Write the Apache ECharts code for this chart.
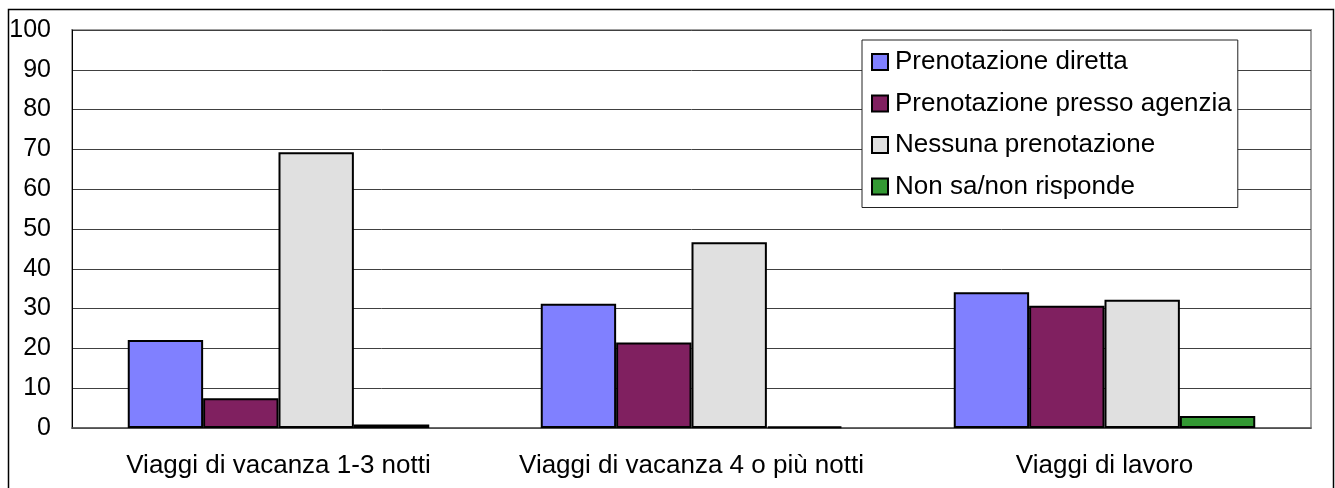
<!DOCTYPE html>
<html>
<head>
<meta charset="utf-8">
<script src="https://cdn.jsdelivr.net/npm/echarts@6/dist/echarts.min.js"></script>
<style>
html,body{margin:0;padding:0;background:#fff;}
#c{width:1335px;height:488px;}
</style>
</head>
<body>
<div id="c"></div>
<script>
const categories = ['Viaggi di vacanza 1-3 notti', 'Viaggi di vacanza 4 o più notti', 'Viaggi di lavoro'];
const seriesNames = ['Prenotazione diretta', 'Prenotazione presso agenzia', 'Nessuna prenotazione', 'Non sa/non risponde'];
const diretta = [22.1, 31.2, 34.1];
const agenzia = [7.5, 21.5, 30.7];
const nessuna = [69.3, 46.7, 32.2];
const nonSa = [0.9, 0.4, 3.0];
const colors = ['#8080FF', '#802060', '#E0E0E0', '#339933'];
const FONT = 'Liberation Sans, Arial, sans-serif';

const values = [diretta, agenzia, nessuna, nonSa];
const chart = echarts.init(document.getElementById('c'), null, {renderer: 'canvas'});
chart.setOption({
  animation: false,
  backgroundColor: '#fff',
  graphic: [{
    type: 'rect', left: 6, top: 7, silent: true, z: 100,
    shape: {x: 0, y: 0, width: 1325, height: 495},
    style: {fill: 'none', stroke: '#000', lineWidth: 1.5}
  }],
  grid: {left: 72, right: 24, top: 30, bottom: 60, show: true, borderColor: '#a0a0a0', borderWidth: 2},
  legend: {
    orient: 'vertical', left: 862, top: 40,
    padding: [5, 6, 4, 9], itemGap: 7.5,
    itemWidth: 16, itemHeight: 16, icon: 'rect',
    backgroundColor: '#fff', borderColor: '#222', borderWidth: 1,
    textStyle: {fontFamily: FONT, fontSize: 26, color: '#000', lineHeight: 26, padding: [0, 0, 8, 2]},
    data: seriesNames
  },
  xAxis: {
    type: 'category', data: categories,
    axisLine: {show: true, lineStyle: {color: '#555', width: 1.5}},
    axisTick: {show: false},
    axisLabel: {fontFamily: FONT, fontSize: 26, color: '#000', margin: 25, interval: 0}
  },
  yAxis: {
    type: 'value', min: 0, max: 100, interval: 10,
    axisLine: {show: true, lineStyle: {color: '#000', width: 1}},
    axisTick: {show: false},
    splitLine: {lineStyle: {color: '#404040', width: 1}},
    axisLabel: {fontFamily: FONT, fontSize: 25, color: '#000', margin: 21}
  },
  series: seriesNames.map((n, i) => ({
    name: n, type: 'bar', data: values[i],
    barGap: '0%', barCategoryGap: '27%',
    itemStyle: {color: colors[i], borderColor: '#000', borderWidth: 2}
  }))
});
</script>
</body>
</html>
